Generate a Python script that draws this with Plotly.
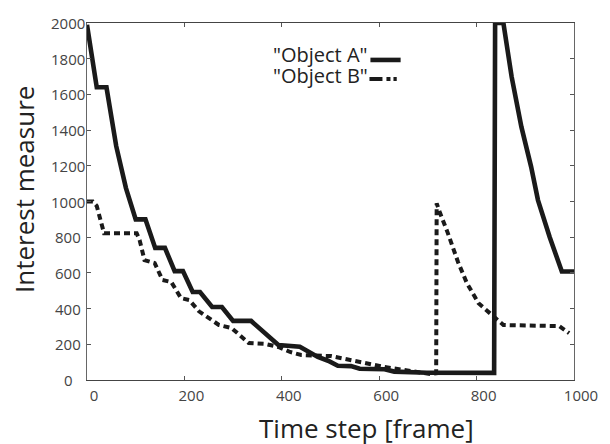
import plotly.graph_objects as go

# ---- data ----
a_x = [0, 20, 40, 60, 80, 100, 120, 140, 160, 180, 197, 217, 232, 257, 277, 300, 337, 393, 437,
       474, 495, 515, 542, 560, 611, 631, 698, 836, 838, 855, 872, 892, 912, 926, 950, 975, 1000]
a_y = [1990, 1640, 1640, 1310, 1075, 900, 900, 740, 740, 610, 610, 493, 493, 409, 409, 331, 331, 196, 186,
       129, 108, 80, 78, 63, 60, 47, 41, 40, 2000, 2000, 1698, 1418, 1194, 1008, 801, 608, 608]

b_x = [0, 12, 20, 35, 102, 108, 118, 139, 155, 173, 193, 210, 230, 271, 297, 332, 366, 393, 417, 440,
       501, 522, 576, 611, 678, 705, 717, 718, 725, 740, 762, 780, 804, 835, 855, 970, 990]
b_y = [1000, 1000, 975, 822, 822, 784, 672, 655, 560, 549, 459, 448, 385, 308, 291, 207, 202, 185, 157, 140,
       134, 123, 95, 73, 45, 34, 38, 990, 935, 830, 660, 543, 430, 353, 308, 302, 262]

x_ticks = [0, 200, 400, 600, 800, 1000]
y_ticks = [0, 200, 400, 600, 800, 1000, 1200, 1400, 1600, 1800, 2000]
series_names = ['"Object A"', '"Object B"']

FONT = "Open Sans"
INK = "#1a1a1a"

fig = go.Figure()
fig.add_trace(go.Scatter(x=b_x, y=b_y, mode="lines", name=series_names[1],
                         line=dict(color=INK, width=4, dash="6px,4px")))
fig.add_trace(go.Scatter(x=a_x, y=a_y, mode="lines", name=series_names[0],
                         line=dict(color=INK, width=4.6)))

annotations = []
# y tick labels (centred, as in the reference)
for v in y_ticks:
    annotations.append(dict(x=-0.039, xref="paper", y=v, yref="y", text=str(v), showarrow=False,
                            xanchor="center", yanchor="middle",
                            font=dict(family=FONT, size=15, color="#444")))
# axis titles
annotations.append(dict(x=0.5735, xref="paper", y=-0.1345, yref="paper", text="Time step [frame]",
                        showarrow=False, xanchor="center", yanchor="middle",
                        font=dict(family=FONT, size=26, color="#222")))
annotations.append(dict(x=-0.128, xref="paper", y=0.534, yref="paper", text="Interest measure",
                        showarrow=False, xanchor="center", yanchor="middle", textangle=-90,
                        font=dict(family=FONT, size=26, color="#222")))
# legend (text on the left, line sample on the right)
annotations.append(dict(x=582, xref="x", y=1823, yref="y", text=series_names[0], showarrow=False,
                        xanchor="right", yanchor="middle", font=dict(family=FONT, size=20, color="#222")))
annotations.append(dict(x=582, xref="x", y=1706, yref="y", text=series_names[1], showarrow=False,
                        xanchor="right", yanchor="middle", font=dict(family=FONT, size=20, color="#222")))

shapes = [
    dict(type="line", xref="x", yref="y", x0=582, x1=644, y0=1793, y1=1793,
         line=dict(color=INK, width=4.6)),
    dict(type="line", xref="x", yref="y", x0=580, x1=636, y0=1686, y1=1686,
         line=dict(color=INK, width=4, dash="13px,4px,4px,3px,4px,40px")),
]

# the page body adds an 8px margin, so the figure is 8px smaller on each axis
fig.update_layout(
    width=602, height=436,
    margin=dict(l=79, r=32, t=15, b=64),
    plot_bgcolor="white", paper_bgcolor="white",
    showlegend=False,
    annotations=annotations, shapes=shapes,
    xaxis=dict(range=[0, 1000], tickvals=x_ticks, ticktext=[str(v) for v in x_ticks],
               ticks="inside", ticklen=4, tickcolor="#555", tickwidth=1,
               showline=True, linecolor="#444", linewidth=1, mirror="ticks",
               showgrid=False, zeroline=False, ticklabelshift=7, ticklabelstandoff=2,
               tickfont=dict(family=FONT, size=15, color="#444")),
    yaxis=dict(range=[0, 2000], tickvals=y_ticks, showticklabels=False,
               ticks="inside", ticklen=4, tickcolor="#555", tickwidth=1,
               showline=True, linecolor="#666", linewidth=1, mirror="ticks",
               showgrid=False, zeroline=False),
)

fig.write_html("out.html")
